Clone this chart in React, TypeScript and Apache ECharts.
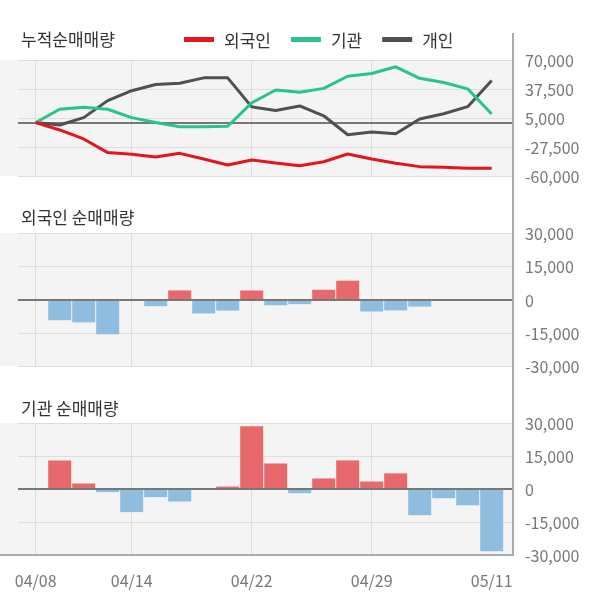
import React, { useEffect, useRef } from 'react';
import * as echarts from 'echarts';

const dates = ['04/08', '04/09', '04/10', '04/13', '04/14', '04/16', '04/17', '04/20', '04/21', '04/22', '04/23', '04/24', '04/27', '04/28', '04/29', '05/04', '05/06', '05/07', '05/08', '05/11'];

const foreignCum = [0, -8400, -18500, -33800, -35600, -38700, -34600, -41000, -47600, -42000, -45500, -48500, -44000, -35400, -40900, -45800, -49500, -50200, -51200, -51200];
const instCum = [0, 14800, 17000, 14800, 5400, 0, -4700, -4900, -4200, 22000, 36400, 33800, 38200, 51800, 54800, 62400, 49500, 44800, 37600, 9500];
const indivCum = [0, -2800, 5400, 24500, 35600, 42500, 43900, 50000, 50000, 17500, 13500, 18500, 7500, -13800, -10800, -12600, 3900, 9700, 17700, 47000];

const foreignDaily = [0, -9400, -10300, -15700, 0, -3000, 4100, -6300, -5000, 4100, -2600, -2100, 4400, 8500, -5400, -4900, -3200, -200, -300, 0];
const instDaily = [0, 12900, 2500, -1400, -10500, -3700, -5700, 0, 1100, 28500, 11600, -1900, 4800, 13000, 3400, 7100, -11900, -4200, -7400, -28300];

const cumTicks = [-60000, -27500, 5000, 37500, 70000];
const dailyTicks = [-30000, -15000, 0, 15000, 30000];
const gridTickIdx = [0, 4, 9, 14];
const labelIdx = [0, 4, 9, 14, 19];

const titles = ['누적순매매량', '외국인 순매매량', '기관 순매매량'];
const seriesNames = ['외국인', '기관', '개인'];

export default function App() {
  const ref = useRef<HTMLDivElement>(null);
  useEffect(() => {
    document.body.style.margin = '0';
    const chart = echarts.init(ref.current!, null, { renderer: 'svg' });
    const FONT = '"Noto Sans CJK KR", "Noto Sans", sans-serif';
    const RED = '#e8696b';
    const BLUE = '#8fbde0';
    const xMin = -0.7375;
    const xMax = 19.8875;
    const mkX = (gridIndex: number, showLabels: boolean) => ({
      type: 'value',
      gridIndex,
      min: xMin,
      max: xMax,
      axisLine: { show: false },
      axisTick: { show: false, customValues: gridTickIdx },
      splitLine: { show: true, lineStyle: { color: '#dddddd', width: 1 } },
      axisLabel: {
        show: showLabels,
        customValues: labelIdx,
        formatter: (v: number) => dates[Math.round(v)] ?? '',
        color: '#777777',
        fontSize: 16,
        fontFamily: FONT,
        margin: 17,
      },
    });
    const mkY = (gridIndex: number, min: number, max: number, ticks: number[]) => ({
      type: 'value',
      gridIndex,
      position: 'right',
      min,
      max,
      axisLine: { show: false },
      axisTick: { show: false, customValues: ticks },
      splitLine: { show: true, lineStyle: { color: '#dddddd', width: 1 } },
      axisLabel: {
        customValues: ticks,
        formatter: (v: number) => v.toLocaleString('en-US'),
        color: '#777777',
        fontSize: 16,
        fontFamily: FONT,
        margin: 12,
        align: 'left',
      },
    });
    const zeroLine = {
      silent: true,
      symbol: 'none',
      label: { show: false },
      lineStyle: { color: '#777777', width: 2, type: 'solid' },
      data: [{ yAxis: 0 }],
    };
    const lineColors = ['#e2161c', '#29c38c', '#505050'];
    const cumData = [foreignCum, instCum, indivCum];
    const lineSeries = cumData.map((arr, k) => ({
      type: 'line',
      name: seriesNames[k],
      xAxisIndex: 0,
      yAxisIndex: 0,
      data: arr.map((v, i) => [i, v]),
      showSymbol: false,
      symbol: 'none',
      lineStyle: { color: lineColors[k], width: 3 },
      itemStyle: { color: lineColors[k] },
      z: 5 - k,
      markLine: k === 0 ? { ...zeroLine, z: 1 } : undefined,
    }));
    const barSeries = [foreignDaily, instDaily].map((arr, k) => ({
      type: 'bar',
      name: titles[k + 1],
      xAxisIndex: k + 1,
      yAxisIndex: k + 1,
      barWidth: 23,
      data: arr.map((v, i) => [i, v]),
      itemStyle: { color: (p: any) => (p.value[1] >= 0 ? RED : BLUE) },
      markLine: zeroLine,
    }));
    const bgRect = (y: number, h: number) => ({
      type: 'rect',
      z: -100,
      silent: true,
      shape: { x: 0, y, width: 513, height: h },
      style: { fill: '#f4f4f4' },
    });
    chart.setOption({
      animation: false,
      textStyle: { fontFamily: FONT },
      title: [
        { text: titles[0], left: 21, top: 30 },
        { text: titles[1], left: 21, top: 208 },
        { text: titles[2], left: 21, top: 399 },
      ].map((t) => ({
        ...t,
        padding: 0,
        textStyle: { fontSize: 17, fontWeight: 'normal', color: '#333333', fontFamily: FONT },
      })),
      legend: {
        data: seriesNames,
        left: 184,
        top: 31,
        padding: 0,
        icon: 'rect',
        itemWidth: 30,
        itemHeight: 5,
        itemGap: 20,
        textStyle: { fontSize: 17, color: '#333333', fontFamily: FONT, padding: [0, 0, 0, 5] },
      },
      grid: [
        { left: 18, right: 87, top: 60, height: 116 },
        { left: 18, right: 87, top: 233, height: 133 },
        { left: 18, right: 87, top: 423, height: 132 },
      ],
      xAxis: [mkX(0, false), mkX(1, false), mkX(2, true)],
      yAxis: [
        mkY(0, -60000, 70000, cumTicks),
        mkY(1, -30000, 30000, dailyTicks),
        mkY(2, -30000, 30000, dailyTicks),
      ],
      graphic: [
        bgRect(60, 116),
        bgRect(233, 133),
        bgRect(423, 132),
        {
          type: 'line',
          z: 100,
          silent: true,
          shape: { x1: 0, y1: 555, x2: 513, y2: 555 },
          style: { stroke: '#aaaaaa', lineWidth: 2 },
        },
        {
          type: 'line',
          z: 100,
          silent: true,
          shape: { x1: 513, y1: 33, x2: 513, y2: 556 },
          style: { stroke: '#aaaaaa', lineWidth: 2 },
        },
      ],
      series: [...lineSeries, ...barSeries],
    });
    return () => chart.dispose();
  }, []);
  return <div ref={ref} style={{ position: 'fixed', left: 0, top: 0, width: 600, height: 604 }} />;
}
